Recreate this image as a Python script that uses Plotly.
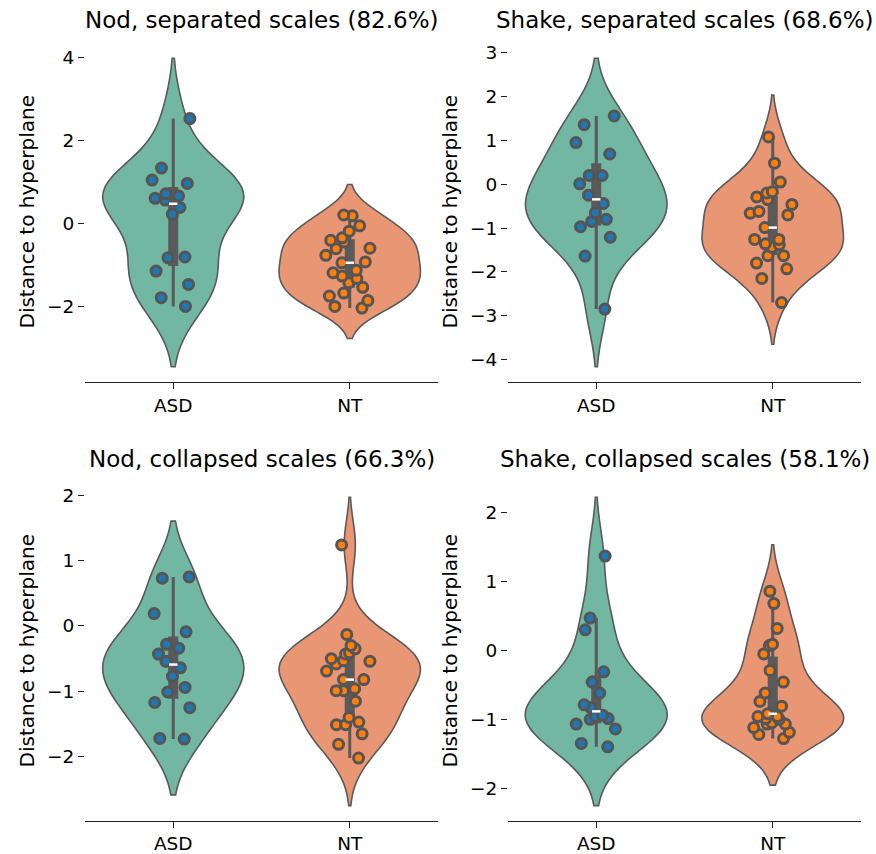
import numpy as np
import plotly.graph_objects as go

groups = ["ASD", "NT"]
titles = ["Nod, separated scales (82.6%)", "Shake, separated scales (68.6%)",
          "Nod, collapsed scales (66.3%)", "Shake, collapsed scales (58.1%)"]

nod_sep_asd = [2.53, 1.34, 1.05, 0.97, 0.72, 0.67, 0.61, 0.57, 0.39, 0.23,
               -0.80, -0.82, -1.14, -1.46, -1.78, -1.99]
nod_sep_nt = [0.19, 0.21, -0.05, -0.18, -0.34, -0.40, -0.44, -0.59, -0.60, -0.76,
              -0.94, -0.92, -1.18, -1.12, -1.26, -1.32, -1.42, -1.53, -1.67, -1.74,
              -1.85, -1.99, -2.03]
shake_sep_asd = [1.56, 1.36, 0.95, 0.69, 0.20, 0.20, 0.01, -0.25, -0.44, -0.65,
                 -0.80, -0.97, -0.85, -1.21, -1.64, -2.85]
shake_sep_nt = [1.08, 0.48, 0.05, -0.20, -0.17, -0.29, -0.35, -0.46, -0.62, -0.66,
                -0.70, -0.99, -1.26, -1.26, -1.36, -1.38, -1.44, -1.63, -1.63, -1.80,
                -1.93, -2.15, -2.70]
nod_col_asd = [0.73, 0.75, 0.19, -0.09, -0.28, -0.34, -0.43, -0.54, -0.64, -0.77,
               -0.94, -1.01, -1.17, -1.25, -1.72, -1.73]
nod_col_nt = [1.24, -0.13, -0.30, -0.35, -0.41, -0.43, -0.54, -0.50, -0.58, -0.53,
              -0.69, -0.82, -0.82, -0.96, -0.99, -0.99, -1.15, -1.51, -1.47, -1.40,
              -1.51, -1.65, -1.81, -2.02]
shake_col_asd = [1.37, 0.47, 0.30, -0.31, -0.46, -0.62, -0.83, -0.79, -0.94, -0.96,
                 -0.99, -1.00, -1.07, -1.14, -1.35, -1.40]
shake_col_nt = [0.86, 0.68, 0.32, 0.09, 0.07, -0.05, -0.29, -0.46, -0.62, -0.74,
                -0.81, -0.96, -0.96, -0.92, -0.99, -1.05, -1.07, -1.12, -1.19, -1.22,
                -1.28, -1.07, -1.00]

panels = [(nod_sep_asd, nod_sep_nt), (shake_sep_asd, shake_sep_nt),
          (nod_col_asd, nod_col_nt), (shake_col_asd, shake_col_nt)]
yticks_step = [2, 1, 1, 1]

violin_colors = ["#71b7a1", "#e99675"]
point_colors = ["#1f77b4", "#ff7f0e"]
gray = "#5a5a5a"
font = "DejaVu Sans"

W, H = 876, 854
xdom_px = [(85, 438), (508, 861)]
ydom_px = [(42, 382), (482, 822)]


def bw_scott(v):
    v = np.asarray(v, float)
    return np.std(v, ddof=1) * len(v) ** (-0.2)


def px(x):
    return x / W


def py(y):
    return 1 - y / H


fig = go.Figure()
layout = dict(width=W, height=H, margin=dict(l=0, r=0, t=0, b=0),
              paper_bgcolor="white", plot_bgcolor="white", showlegend=False,
              font=dict(family=font, size=19, color="black"), annotations=[])

for p, data in enumerate(panels):
    col, row = p % 2, p // 2
    sfx = "" if p == 0 else str(p + 1)
    xa, ya = "x" + sfx, "y" + sfx
    bws = [bw_scott(v) for v in data]
    lo = min(min(v) - 2 * b for v, b in zip(data, bws))
    hi = max(max(v) + 2 * b for v, b in zip(data, bws))
    pad = 0.05 * (hi - lo)
    for g, (vals, bw) in enumerate(zip(data, bws)):
        fig.add_trace(go.Violin(
            x=[groups[g]] * len(vals), y=vals, xaxis=xa, yaxis=ya,
            width=0.8, scalemode="width", spanmode="soft", bandwidth=bw,
            fillcolor=violin_colors[g], opacity=1,
            line=dict(color=gray, width=1.6),
            points="all", pointpos=0, jitter=0.35,
            marker=dict(color=point_colors[g], size=10,
                        line=dict(color="#555555", width=3)),
            box=dict(visible=True, width=0.05, fillcolor=gray,
                     line=dict(color=gray, width=3)),
            meanline=dict(visible=False), hoverinfo="skip", showlegend=False))
        fig.add_trace(go.Scatter(
            x=[groups[g]], y=[float(np.median(vals))], xaxis=xa, yaxis=ya,
            mode="markers", hoverinfo="skip", showlegend=False,
            marker=dict(symbol="line-ew", size=6, color="white",
                        line=dict(color="white", width=2.5))))
    x0, x1 = xdom_px[col]
    y0, y1 = ydom_px[row]
    layout["xaxis" + sfx] = dict(
        domain=[px(x0), px(x1)], anchor=ya, type="category",
        categoryorder="array", categoryarray=groups, range=[-0.5, 1.5],
        showline=True, linecolor="#222", linewidth=1.4, ticks="outside",
        ticklen=6, tickwidth=1.4, tickcolor="#222", showgrid=False,
        zeroline=False, tickfont=dict(family=font, size=18.5, color="black"))
    layout["yaxis" + sfx] = dict(
        domain=[py(y1), py(y0)], anchor=xa, range=[lo - pad, hi + pad],
        dtick=yticks_step[p], tick0=0, showline=False, ticks="outside",
        ticklen=6, tickwidth=1.4, tickcolor="#222", showgrid=False,
        zeroline=False, tickfont=dict(family=font, size=18.5, color="black"))
    layout["annotations"].append(dict(
        text=titles[p], x=px((x0 + x1) / 2), y=py(y0 - 8),
        xref="paper", yref="paper", xanchor="center", yanchor="bottom",
        showarrow=False, font=dict(family=font, size=23, color="black")))
    layout["annotations"].append(dict(
        text="Distance to hyperplane", x=px(x0 - 58), y=py((y0 + y1) / 2),
        xref="paper", yref="paper", xanchor="center", yanchor="middle",
        textangle=-90, showarrow=False,
        font=dict(family=font, size=20, color="black")))

fig.update_layout(**layout)
fig.write_html("out.html", config={"displayModeBar": False},
               post_script="document.body.style.margin='0';"
                           "document.body.style.overflow='hidden';")
